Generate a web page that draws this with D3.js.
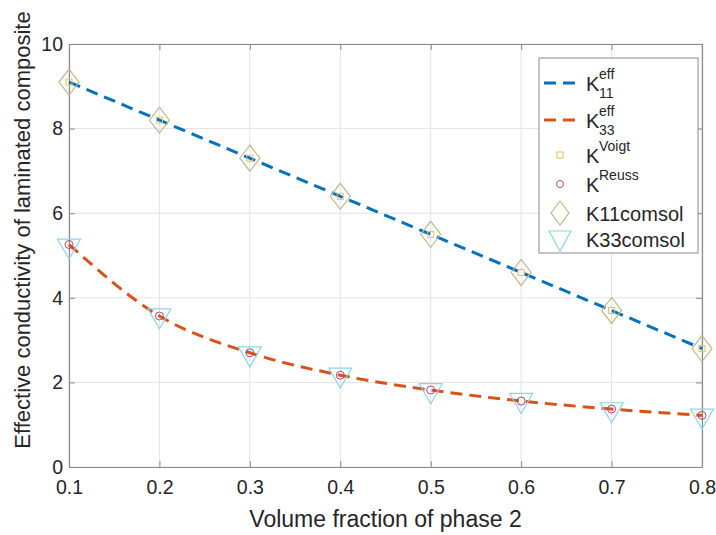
<!DOCTYPE html>
<html>
<head>
<meta charset="utf-8">
<script src="https://cdn.jsdelivr.net/npm/d3@7"></script>
<style>
  body { margin: 0; background: #fff; }
  text { font-family: "Liberation Sans", Arial, sans-serif; fill: #262626; }
</style>
</head>
<body>
<div id="chart"></div>
<script>
// data
const fractions = [0.1, 0.2, 0.3, 0.4, 0.5, 0.6, 0.7, 0.8]
const k11eff = [9.1, 8.2, 7.3, 6.4, 5.5, 4.6, 3.7, 2.8]
const k33eff = [5.26, 3.57, 2.70, 2.17, 1.82, 1.56, 1.37, 1.22]
const kVoigt = [9.1, 8.2, 7.3, 6.4, 5.5, 4.6, 3.7, 2.8]
const kReuss = [5.26, 3.57, 2.70, 2.17, 1.82, 1.56, 1.37, 1.22]
const k11comsol = [9.1, 8.2, 7.3, 6.4, 5.5, 4.6, 3.7, 2.8]
const k33comsol = [5.2, 3.55, 2.65, 2.15, 1.78, 1.55, 1.33, 1.18]
const xTicks = [0.1, 0.2, 0.3, 0.4, 0.5, 0.6, 0.7, 0.8]
const yTicks = [0, 2, 4, 6, 8, 10]

const WIDTH = 716, HEIGHT = 535
const MARGIN = { LEFT: 69, RIGHT: 14, TOP: 44, BOTTOM: 68 }

const svg = d3.select("#chart").append("svg")
  .attr("width", WIDTH)
  .attr("height", HEIGHT)

const x = d3.scaleLinear().domain([0.1, 0.8]).range([MARGIN.LEFT, WIDTH - MARGIN.RIGHT])
const y = d3.scaleLinear().domain([0, 10]).range([HEIGHT - MARGIN.BOTTOM, MARGIN.TOP])

const C = {
  blue: "#0072BD", orange: "#D95319", yellow: "#E8BF5A",
  purple: "#B0457A", olive: "#BDBA8C", cyan: "#8ED2E8"
}

// grid
const grid = svg.append("g")
grid.selectAll(".gx").data(xTicks).enter().append("line")
  .attr("x1", d => x(d)).attr("x2", d => x(d))
  .attr("y1", y(0)).attr("y2", y(10))
  .attr("stroke", "#e3e3e3").attr("stroke-width", 1)
grid.selectAll(".gy").data(yTicks).enter().append("line")
  .attr("x1", x(0.1)).attr("x2", x(0.8))
  .attr("y1", d => y(d)).attr("y2", d => y(d))
  .attr("stroke", "#e3e3e3").attr("stroke-width", 1)

// axes with inward ticks on all four sides
const tickFmt = d3.format(".1f")
svg.append("g")
  .attr("transform", `translate(0, ${y(0)})`)
  .call(d3.axisBottom(x).tickValues(xTicks).tickFormat(tickFmt).tickSizeInner(-6).tickSizeOuter(0).tickPadding(13))
svg.append("g")
  .attr("transform", `translate(0, ${y(10)})`)
  .call(d3.axisTop(x).tickValues(xTicks).tickFormat("").tickSizeInner(-6).tickSizeOuter(0))
svg.append("g")
  .attr("transform", `translate(${x(0.1)}, 0)`)
  .call(d3.axisLeft(y).tickValues(yTicks).tickFormat(d3.format("d")).tickSizeInner(-6).tickSizeOuter(0).tickPadding(6))
svg.append("g")
  .attr("transform", `translate(${x(0.8)}, 0)`)
  .call(d3.axisRight(y).tickValues(yTicks).tickFormat("").tickSizeInner(-6).tickSizeOuter(0))

svg.selectAll(".domain").attr("stroke", "#8a8a8a").attr("stroke-width", 1.2)
svg.selectAll(".tick line").attr("stroke", "#8a8a8a")
svg.selectAll(".tick text").attr("font-size", "19.5px").attr("fill", "#262626")
  .style("font-family", "Liberation Sans, Arial, sans-serif")

// axis titles
svg.append("text")
  .attr("x", x(0.45)).attr("y", 527)
  .attr("text-anchor", "middle")
  .attr("font-size", "23px")
  .text("Volume fraction of phase 2")
svg.append("text")
  .attr("transform", `translate(30, 230) rotate(-90)`)
  .attr("text-anchor", "middle")
  .attr("font-size", "22px")
  .text("Effective conductivity of laminated composite")

// lines
const pts = arr => fractions.map((f, i) => [f, arr[i]])
const line = d3.line().x(d => x(d[0])).y(d => y(d[1])).curve(d3.curveMonotoneX)

svg.append("path").datum(pts(k11eff))
  .attr("d", line).attr("fill", "none")
  .attr("stroke", C.blue).attr("stroke-width", 3).attr("stroke-dasharray", "12,7")
svg.append("path").datum(pts(k33eff))
  .attr("d", line).attr("fill", "none")
  .attr("stroke", C.orange).attr("stroke-width", 3).attr("stroke-dasharray", "12,7")

// markers
const diamond = (w, h) => `M0,${-h / 2}L${w / 2},0L0,${h / 2}L${-w / 2},0Z`
const triangle = (w, h) => `M${-w / 2},${-h * 0.4}L${w / 2},${-h * 0.4}L0,${h * 0.6}Z`

svg.selectAll(".voigt").data(pts(kVoigt)).enter().append("rect")
  .attr("x", d => x(d[0]) - 3).attr("y", d => y(d[1]) - 3)
  .attr("width", 6).attr("height", 6)
  .attr("fill", "none").attr("stroke", C.yellow).attr("stroke-width", 1)
svg.selectAll(".reuss").data(pts(kReuss)).enter().append("circle")
  .attr("cx", d => x(d[0])).attr("cy", d => y(d[1])).attr("r", 4)
  .attr("fill", "none").attr("stroke", C.purple).attr("stroke-width", 1)
svg.selectAll(".k11c").data(pts(k11comsol)).enter().append("path")
  .attr("transform", d => `translate(${x(d[0])}, ${y(d[1])})`)
  .attr("d", diamond(20, 26))
  .attr("fill", "none").attr("stroke", C.olive).attr("stroke-width", 1.2)
svg.selectAll(".k33c").data(pts(k33comsol)).enter().append("path")
  .attr("transform", d => `translate(${x(d[0])}, ${y(d[1])})`)
  .attr("d", triangle(23, 20))
  .attr("fill", "none").attr("stroke", C.cyan).attr("stroke-width", 1.2)

// legend
const lg = svg.append("g").attr("transform", "translate(539, 58)")
lg.append("rect").attr("width", 159).attr("height", 195)
  .attr("fill", "#fff").attr("stroke", "#8a8a8a").attr("stroke-width", 1)

const rows = [
  { type: "line", color: C.blue, base: "K", sup: "eff", sub: "11", cy: 25 },
  { type: "line", color: C.orange, base: "K", sup: "eff", sub: "33", cy: 62 },
  { type: "square", color: C.yellow, base: "K", sup: "Voigt", cy: 97 },
  { type: "circle", color: C.purple, base: "K", sup: "Reuss", cy: 126 },
  { type: "diamond", color: C.olive, base: "K11comsol", cy: 155 },
  { type: "triangle", color: C.cyan, base: "K33comsol", cy: 181 }
]

rows.forEach(r => {
  const g = lg.append("g").attr("transform", `translate(0, ${r.cy})`)
  if (r.type === "line") {
    g.append("line").attr("x1", 5).attr("x2", 37).attr("y1", 0).attr("y2", 0)
      .attr("stroke", r.color).attr("stroke-width", 3).attr("stroke-dasharray", "12,7")
  } else if (r.type === "square") {
    g.append("rect").attr("x", 18).attr("y", -3).attr("width", 6).attr("height", 6)
      .attr("fill", "none").attr("stroke", r.color)
  } else if (r.type === "circle") {
    g.append("circle").attr("cx", 21).attr("cy", 0).attr("r", 3.5)
      .attr("fill", "none").attr("stroke", r.color)
  } else if (r.type === "diamond") {
    g.append("path").attr("transform", "translate(21, 0)").attr("d", diamond(18, 24))
      .attr("fill", "none").attr("stroke", r.color).attr("stroke-width", 1.2)
  } else {
    g.append("path").attr("transform", "translate(21, 0)").attr("d", triangle(22, 20))
      .attr("fill", "none").attr("stroke", r.color).attr("stroke-width", 1.2)
  }
  const t = g.append("text").attr("x", 47).attr("y", 8).attr("font-size", "20px")
  t.append("tspan").text(r.base)
  if (r.sup) {
    const sx = 47 + 13
    t.append("tspan").attr("x", sx).attr("y", -4).attr("font-size", "14px").text(r.sup)
    if (r.sub) t.append("tspan").attr("x", sx).attr("y", 15).attr("font-size", "14px").text(r.sub)
  }
})
</script>
</body>
</html>
